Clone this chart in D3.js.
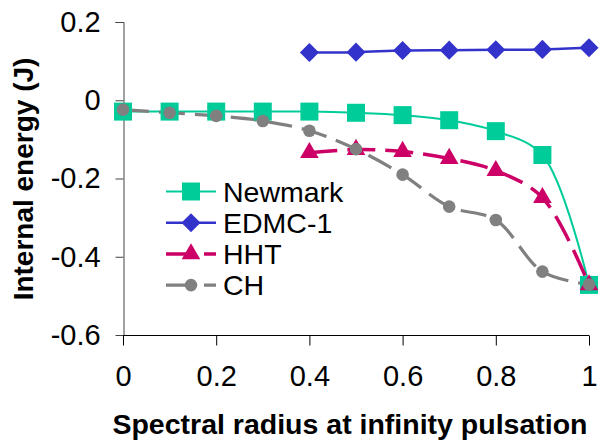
<!DOCTYPE html>
<html>
<head>
<meta charset="utf-8">
<script src="https://cdn.jsdelivr.net/npm/d3@7"></script>
<style>
  body { margin: 0; background: #fff; }
  svg { display: block; font-family: "Liberation Sans", Arial, sans-serif; }
</style>
</head>
<body>
<div id="chart"></div>
<script>
// spectral radius values
var xFull = [0, 0.1, 0.2, 0.3, 0.4, 0.5, 0.6, 0.7, 0.8, 0.9, 1.0];
var xPart = [0.4, 0.5, 0.6, 0.7, 0.8, 0.9, 1.0];

var newmark = [-0.029, -0.029, -0.029, -0.029, -0.029, -0.032, -0.038, -0.051, -0.079, -0.14, -0.472];
var edmc    = [0.122, 0.123, 0.127, 0.128, 0.129, 0.130, 0.134];
var hht     = [-0.134, -0.126, -0.131, -0.149, -0.18, -0.249, -0.472];
var ch      = [-0.024, -0.032, -0.04, -0.053, -0.078, -0.125, -0.19, -0.272, -0.306, -0.438, -0.471];

var xTicks = [0, 0.2, 0.4, 0.6, 0.8, 1];
var yTicks = [0.2, 0, -0.2, -0.4, -0.6];

var width = 599, height = 440;

var x = d3.scaleLinear().domain([0, 1]).range([123, 589]);
var y = d3.scaleLinear().domain([-0.6, 0.2]).range([335, 22]);

var svg = d3.select('#chart').append('svg')
	.attr('width', width)
	.attr('height', height);

function fmt(d) {
	return d === 0 ? '0' : String(d);
}

// y axis
var yAxis = d3.axisLeft(y).tickValues(yTicks).tickSize(8).tickPadding(14).tickFormat(fmt);
var yGuide = svg.append('g').attr('transform', 'translate(123.5,0)').call(yAxis);
yGuide.select('.domain').attr('stroke', '#444').attr('d', 'M-8,' + (y(0.2) + 0.5) + 'H0.5V' + (y(-0.6) + 0.5));
yGuide.selectAll('.tick line').attr('stroke', '#444');
yGuide.selectAll('text').style('font-size', '29px').attr('fill', '#000').attr('dx', '-0.03em');

// x axis
var xAxis = d3.axisBottom(x).tickValues(xTicks).tickSize(10).tickPadding(20).tickFormat(fmt);
var xGuide = svg.append('g').attr('transform', 'translate(0,' + (y(-0.6) + 0.5) + ')').call(xAxis);
xGuide.select('.domain').attr('stroke', '#000').attr('d', 'M' + x(0) + ',0H' + x(1));
xGuide.selectAll('.tick line').attr('stroke', '#000');
xGuide.selectAll('text').style('font-size', '29px').attr('fill', '#000');

// titles
svg.append('text')
	.attr('x', 350)
	.attr('y', 434)
	.attr('text-anchor', 'middle')
	.style('font-size', '28.5px')
	.style('font-weight', 'bold')
	.text('Spectral radius at infinity pulsation');

svg.append('text')
	.attr('transform', 'translate(33,179) rotate(-90)')
	.attr('text-anchor', 'middle')
	.style('font-size', '28px')
	.style('font-weight', 'bold')
	.text('Internal energy (J)');

var series = [
	{name: 'Newmark', xs: xFull, ys: newmark, color: '#00CC99', width: 2, dash: null, symbol: d3.symbolSquare, size: 18 * 18, rot: 0},
	{name: 'EDMC-1', xs: xPart, ys: edmc, color: '#3333CC', width: 2.5, dash: null, symbol: d3.symbolSquare, size: 13.5 * 13.5, rot: 45},
	{name: 'HHT', xs: xPart, ys: hht, color: '#CC0066', width: 3.5, dash: '28,10', symbol: d3.symbolTriangle, size: 150, rot: 0},
	{name: 'CH', xs: xFull, ys: ch, color: '#808080', width: 3.2, dash: '26,10', symbol: d3.symbolCircle, size: Math.PI * 6.3 * 6.3, rot: 0}
];

var line = d3.line()
	.x(function(d) { return x(d[0]); })
	.y(function(d) { return y(d[1]); })
	.curve(d3.curveCatmullRom.alpha(0.5));

function pointsOf(s) {
	return s.xs.map(function(v, i) { return [v, s.ys[i]]; });
}

// lines of every series first, then markers on top
var lines = svg.append('g');
var marks = svg.append('g');

series.forEach(function(s) {
	var pts = pointsOf(s);
	lines.append('path')
		.attr('d', line(pts))
		.attr('fill', 'none')
		.attr('stroke', s.color)
		.attr('stroke-width', s.width)
		.attr('stroke-dasharray', s.dash);
	marks.append('g').selectAll('path').data(pts).enter().append('path')
		.attr('d', d3.symbol().type(s.symbol).size(s.size))
		.attr('transform', function(d) {
			return 'translate(' + x(d[0]) + ',' + y(d[1]) + ') rotate(' + s.rot + ')';
		})
		.attr('fill', s.color);
});

// legend
var legend = svg.append('g').attr('transform', 'translate(166,191.5)');
var rows = legend.selectAll('g').data(series).enter().append('g')
	.attr('transform', function(d, i) { return 'translate(0,' + i * 31.2 + ')'; });
rows.append('line')
	.attr('x1', 0).attr('x2', 50)
	.attr('stroke', function(d) { return d.color; })
	.attr('stroke-width', function(d) { return d.width; })
	.attr('stroke-dasharray', function(d) { return d.dash ? '28,10,12' : null; });
rows.append('path')
	.attr('d', function(d) { return d3.symbol().type(d.symbol).size(d.size)(); })
	.attr('transform', function(d) { return 'translate(25,0) rotate(' + d.rot + ')'; })
	.attr('fill', function(d) { return d.color; });
rows.append('text')
	.attr('x', 57)
	.attr('dy', '0.36em')
	.style('font-size', '28.5px')
	.text(function(d) { return d.name; });
</script>
</body>
</html>
